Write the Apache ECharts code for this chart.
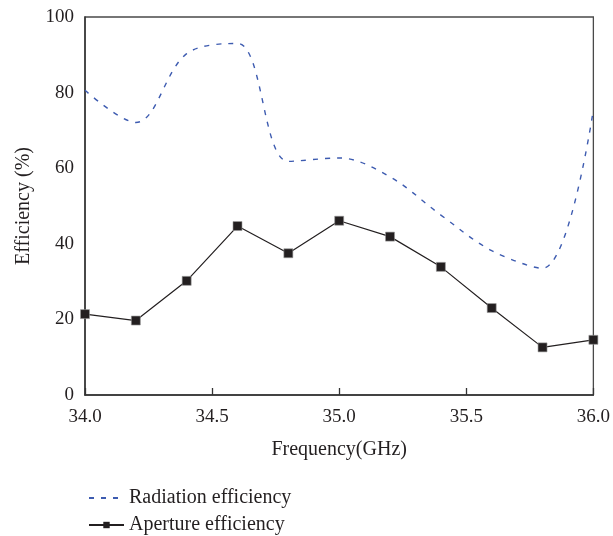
<!DOCTYPE html>
<html>
<head>
<meta charset="utf-8">
<script src="https://cdn.jsdelivr.net/npm/echarts@6/dist/echarts.min.js"></script>
<style>
  html, body { margin: 0; padding: 0; background: #ffffff; }
  #chart { width: 613px; height: 536px; }
</style>
</head>
<body>
<div id="chart"></div>
<script>
// Frequency sweep (GHz)
const frequency = [34.0, 34.2, 34.4, 34.6, 34.8, 35.0, 35.2, 35.4, 35.6, 35.8, 36.0];
// Radiation efficiency (%)
const radiationEfficiency = [80.6, 72.1, 90.3, 93.0, 61.8, 62.7, 57.7, 47.6, 38.2, 33.5, 75.5];
// Aperture efficiency (%)
const apertureEfficiency = [21.4, 19.7, 30.2, 44.7, 37.5, 46.1, 41.9, 33.9, 23.0, 12.6, 14.6];

const seriesNames = ['Radiation efficiency', 'Aperture efficiency'];
const xTitle = 'Frequency(GHz)';
const yTitle = 'Efficiency (%)';

const FONT = '"Liberation Serif", "DejaVu Serif", serif';
const INK = '#231f20';
const BLUE = '#3d5bb0';
const TICK_FONT = 19;
const TITLE_FONT = 20;

const pair = (xs, ys) => xs.map((x, i) => [x, ys[i]]);

// one legend box per row, stacked under the plot
const legendRow = (top, item) => ({
  orient: 'horizontal',
  left: 83,
  top: top,
  itemWidth: 35,
  itemHeight: 8,
  textStyle: { fontFamily: FONT, fontSize: TITLE_FONT, color: INK },
  data: [item]
});

const chart = echarts.init(document.getElementById('chart'), null, { renderer: 'canvas' });

chart.setOption({
  animation: false,
  backgroundColor: '#ffffff',
  grid: {
    left: 85, right: 18, top: 17, bottom: 141,
    show: true, borderColor: '#4a4a4a', borderWidth: 1.3, backgroundColor: 'transparent'
  },
  legend: [
    legendRow(483, { name: seriesNames[0], itemStyle: { opacity: 0 } }),
    legendRow(510, { name: seriesNames[1], itemStyle: { borderWidth: 0 } })
  ],
  xAxis: {
    type: 'value',
    min: 34,
    max: 36,
    interval: 0.5,
    name: xTitle,
    nameLocation: 'middle',
    nameGap: 45,
    nameTextStyle: { fontFamily: FONT, fontSize: TITLE_FONT, color: INK },
    axisLine: { show: true, lineStyle: { color: '#333333', width: 1.5 } },
    axisTick: { show: true, inside: true, length: 7, lineStyle: { color: '#333333', width: 1.3 } },
    axisLabel: {
      margin: 13,
      fontFamily: FONT, fontSize: TICK_FONT, color: INK,
      formatter: v => v.toFixed(1)
    },
    splitLine: { show: false }
  },
  yAxis: {
    type: 'value',
    min: 0,
    max: 100,
    interval: 20,
    name: yTitle,
    nameLocation: 'middle',
    nameGap: 51,
    nameTextStyle: { fontFamily: FONT, fontSize: TITLE_FONT, color: INK },
    axisLine: { show: true, lineStyle: { color: '#333333', width: 1.5 } },
    axisTick: { show: false },
    axisLabel: { margin: 11, fontFamily: FONT, fontSize: TICK_FONT, color: INK },
    splitLine: { show: false }
  },
  series: [
    {
      name: seriesNames[0],
      type: 'line',
      data: pair(frequency, radiationEfficiency),
      smooth: 0.35,
      symbol: 'none',
      showSymbol: false,
      lineStyle: { color: BLUE, width: 1.4, type: [5, 7] },
      itemStyle: { color: BLUE }
    },
    {
      name: seriesNames[1],
      type: 'line',
      data: pair(frequency, apertureEfficiency),
      symbol: 'rect',
      symbolSize: 9,
      lineStyle: { color: INK, width: 1.2 },
      itemStyle: { color: INK, borderColor: '#9a9a9a', borderWidth: 0.6 }
    }
  ]
});
</script>
</body>
</html>
